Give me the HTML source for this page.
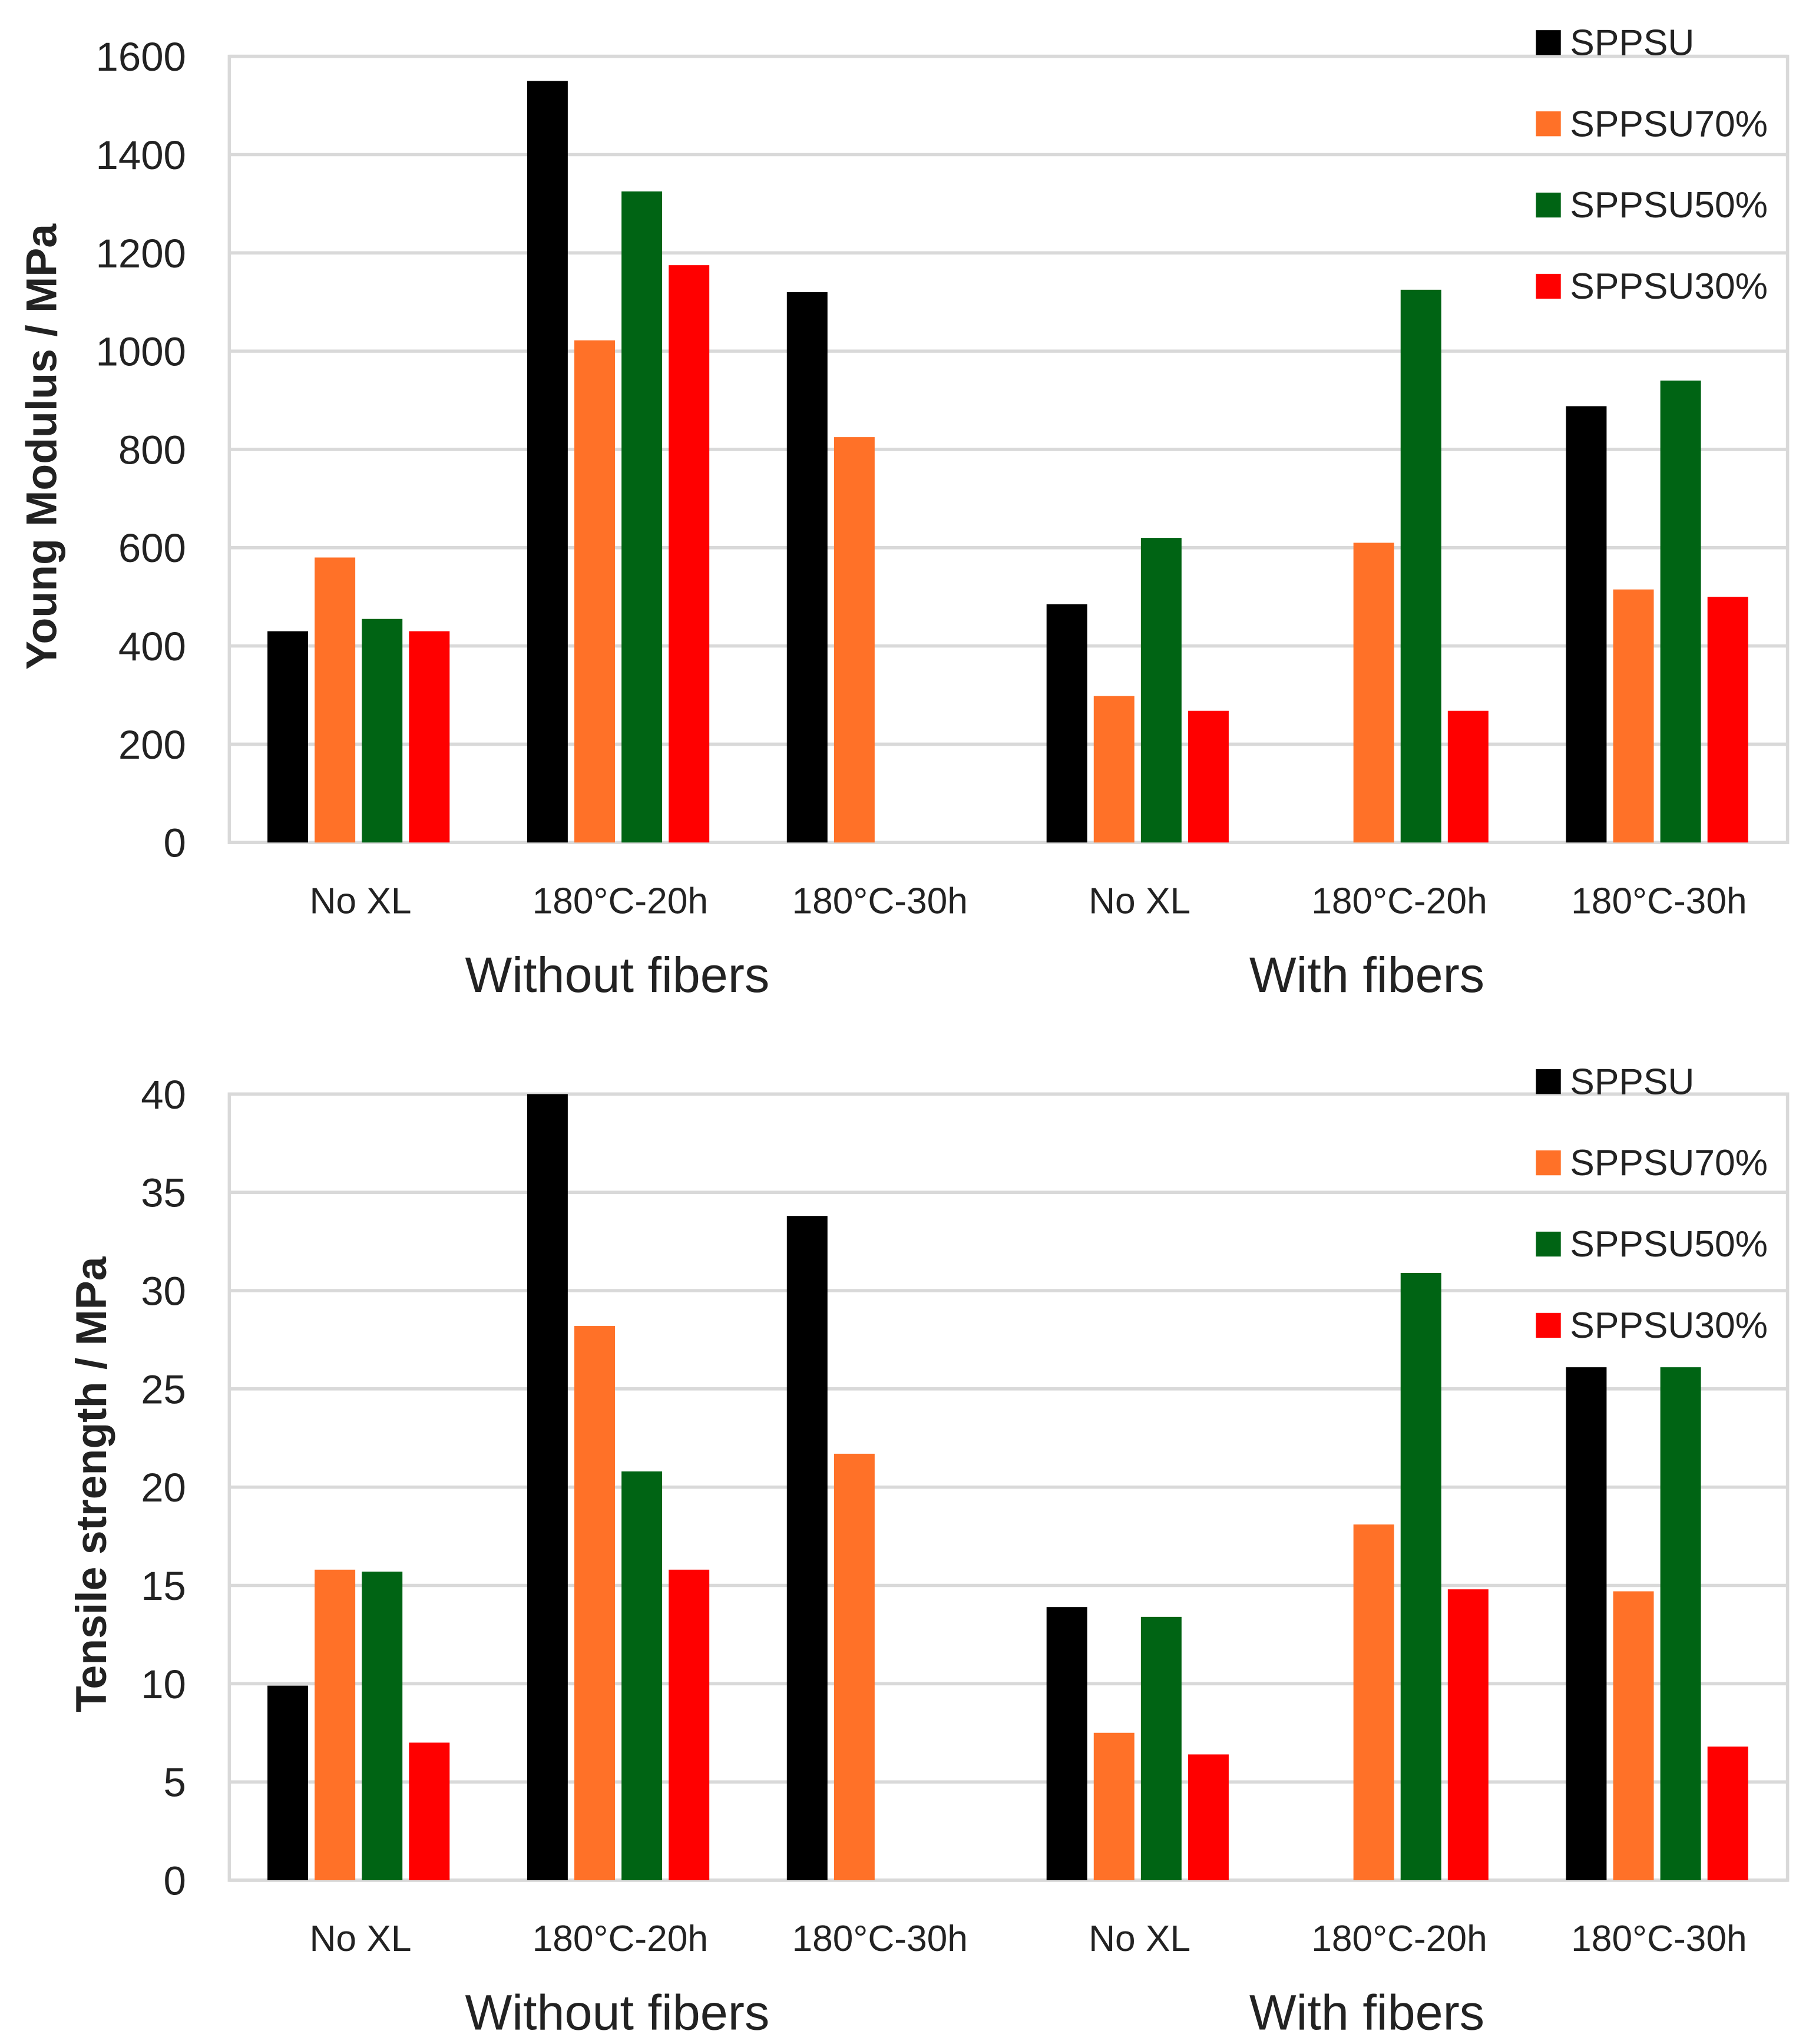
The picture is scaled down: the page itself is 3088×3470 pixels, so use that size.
<!DOCTYPE html>
<html><head><meta charset="utf-8"><style>
html,body{margin:0;padding:0;background:#fff}
svg{display:block}
text{font-family:"Liberation Sans",sans-serif;fill:#222}
</style></head><body>
<svg id="chart" width="3088" height="3470" viewBox="0 0 1388 1560" preserveAspectRatio="none" xmlns="http://www.w3.org/2000/svg"></svg>
<script>
const categories = ["No XL","180°C-20h","180°C-30h","No XL","180°C-20h","180°C-30h"];
const seriesNames = ["SPPSU","SPPSU70%","SPPSU50%","SPPSU30%"];
const seriesColors = ["#000000","#FF7128","#006414","#FF0000"];
const modulusSPPSU = [430,1550,1120,485,null,888];
const modulus70 = [580,1022,825,298,610,515];
const modulus50 = [455,1325,null,620,1125,940];
const modulus30 = [430,1175,null,268,268,500];
const modulusTicks = [0,200,400,600,800,1000,1200,1400,1600];
const strengthSPPSU = [9.9,40,33.8,13.9,null,26.1];
const strength70 = [15.8,28.2,21.7,7.5,18.1,14.7];
const strength50 = [15.7,20.8,null,13.4,30.9,26.1];
const strength30 = [7.0,15.8,null,6.4,14.8,6.8];
const strengthTicks = [0,5,10,15,20,25,30,35,40];
const groupLabels = ["Without fibers","With fibers"];

const NS="http://www.w3.org/2000/svg";
const svg=document.getElementById('chart');
function mk(tag,attrs,parent){const e=document.createElementNS(NS,tag);for(const k in attrs)e.setAttribute(k,attrs[k]);(parent||svg).appendChild(e);return e;}

function drawChart(cfg){
  const g=mk('g',{});
  
  
  const L=175,R=1364,T=cfg.top,B=cfg.top+600;
  const max=cfg.ticks[cfg.ticks.length-1];
  const y=v=>B-(v/max)*(B-T);
  const gw=(R-L)/categories.length;
  cfg.ticks.forEach(t=>{
    const ln=mk('line',{x1:L,x2:R,y1:y(t),y2:y(t),stroke:'#d9d9d9','stroke-width':2.5},g);
    
    
    const tx=mk('text',{x:142,y:y(t)+11,'text-anchor':'end','font-size':31},g);
    
    
    tx.textContent=t;
  });
  const fr=mk('rect',{x:L,y:T,width:R-L,height:B-T,fill:'none',stroke:'#d9d9d9','stroke-width':2.5},g);
  
  
  cfg.series.forEach((vals,s)=>{
    vals.forEach((v,i)=>{
      if(v==null)return;
      const cx=L+gw*(i+0.5);
      const x=cx-70+s*36;
      const r=mk('rect',{x:x,y:y(v),width:31,height:B-y(v),fill:seriesColors[s]},g);
      
      
    });
  });
  categories.forEach((c,i)=>{
    const t=mk('text',{x:L+gw*(i+0.5)+1,y:B+54,'text-anchor':'middle','font-size':28},g);
    
    
    t.textContent=c;
  });
  groupLabels.forEach((lab,k)=>{
    const t=mk('text',{x:k==0?471:1043,y:B+114,'text-anchor':'middle','font-size':38},g);
    
    
    t.textContent=lab;
  });
  const yt=mk('text',{x:0,y:0,'text-anchor':'middle','font-size':33,'font-weight':'bold',transform:`translate(${cfg.titleX},${(T+B)/2-2}) rotate(-90)`},g);
  
  
  yt.textContent=cfg.title;
  seriesNames.forEach((n,s)=>{
    const ly=cfg.legendTop+s*62;
    const sq=mk('rect',{x:1172,y:ly-9,width:19,height:19,fill:seriesColors[s]},g);
    
    
    const t=mk('text',{x:1198,y:ly+10,'font-size':28},g);
    
    
    t.textContent=n;
  });
}
drawChart({name:'young-modulus-chart',top:43,ticks:modulusTicks,series:[modulusSPPSU,modulus70,modulus50,modulus30],title:'Young Modulus / MPa',titleX:43,legendTop:32});
drawChart({name:'tensile-strength-chart',top:835,ticks:strengthTicks,series:[strengthSPPSU,strength70,strength50,strength30],title:'Tensile strength / MPa',titleX:81,legendTop:825});
</script>
</body></html>
